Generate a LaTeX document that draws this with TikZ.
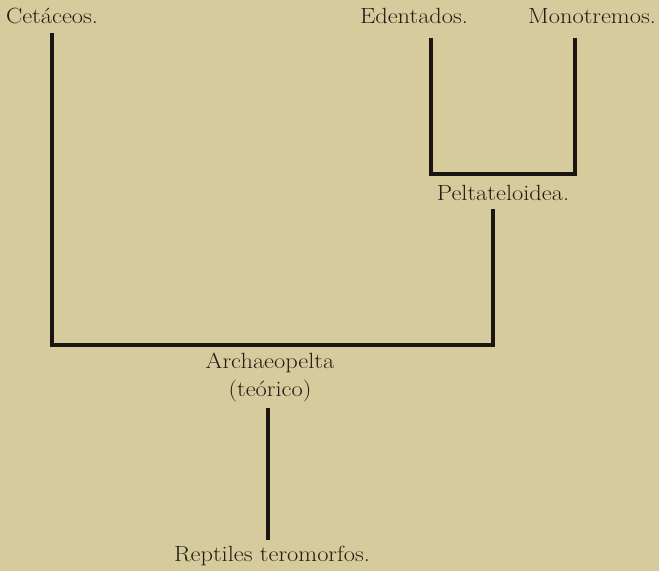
\documentclass[tikz,border=0pt]{standalone}
\usepackage{xcolor}
\usepackage{graphicx}
\definecolor{paper}{RGB}{214,203,156}
\definecolor{ink}{RGB}{26,21,16}
\definecolor{txt}{RGB}{34,29,22}
\newcommand{\wide}[1]{\scalebox{1.11}[1]{#1}}
\begin{document}
\begin{tikzpicture}[x=1pt,y=-1pt,
  lbl/.style={text=txt,font=\fontsize{22}{26}\selectfont,inner sep=0pt,align=center},
  branch/.style={draw=ink,line width=3.6pt,line join=miter}]
\fill[paper] (0,0) rectangle (659,571);
\useasboundingbox (0,0) rectangle (659,571);
% labels
\node[lbl] (cet) at (52,16) {\wide{Cet\'aceos.}};
\node[lbl] (ede) at (414,16) {\wide{Edentados.}};
\node[lbl] (mono) at (592,16) {\wide{Monotremos.}};
\node[lbl] (pelt) at (503,193) {\wide{Peltateloidea.}};
\node[lbl] (arch) at (270,377) {\wide{Archaeopelta}\\[2pt]\wide{(te\'orico)}};
\node[lbl] (rept) at (272,556) {\wide{Reptiles teromorfos.}};
% junction coordinates
\coordinate (e1) at (431,38);
\coordinate (e2) at (431,174);
\coordinate (m2) at (575,174);
\coordinate (m1) at (575,38);
\coordinate (c1) at (52,33);
\coordinate (c2) at (52,345);
\coordinate (p2) at (493,345);
\coordinate (p1) at (493,209);
\coordinate (r1) at (268,408);
\coordinate (r2) at (268,540);
% connectors
\draw[branch] (e1) -- (e2) -- (m2) -- (m1);
\draw[branch] (c1) -- (c2) -- (p2) -- (p1);
\draw[branch] (r1) -- (r2);
\end{tikzpicture}
\end{document}
